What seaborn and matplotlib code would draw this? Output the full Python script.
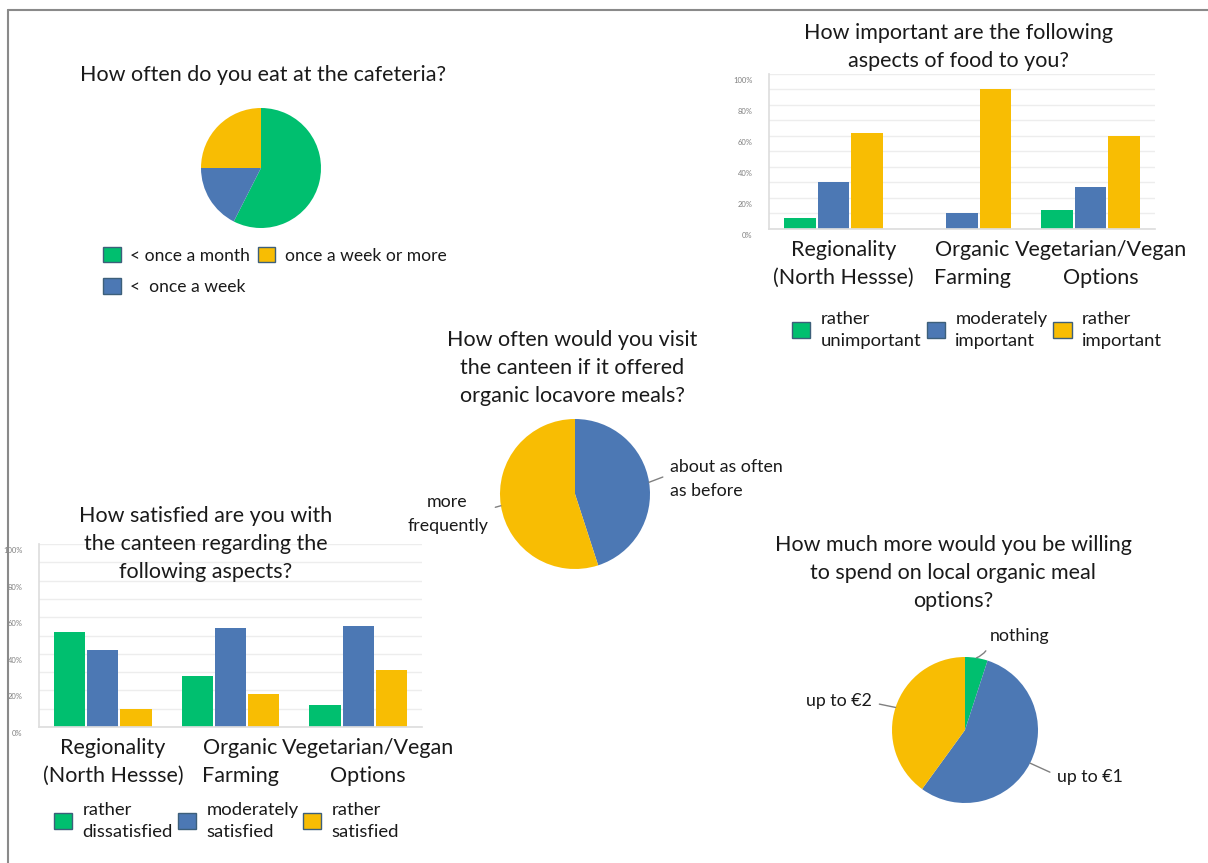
import numpy as np
import pandas as pd
import seaborn as sns
import matplotlib.pyplot as plt
from matplotlib.patches import Patch
from matplotlib.lines import Line2D
from matplotlib.transforms import ScaledTranslation

# Colores de la encuesta
GREEN = '#00BF6F'
BLUE = '#4C78B4'
YELLOW = '#F8BD03'
PALETTE = [GREEN, BLUE, YELLOW]

# Datos: frecuencia en la cafeteria
cafe_labels = ['< once a month', '<  once a week', 'once a week or more']
cafe_share = [57.5, 17.5, 25.0]

# Datos: visitas con comida organica local
visit_labels = ['about as often\nas before', 'more\nfrequently']
visit_share = [45, 55]

# Datos: disposicion a pagar
spend_labels = ['nothing', 'up to €1', 'up to €2']
spend_share = [5, 55, 40]

aspects = ['Regionality\n(North Hessse)', 'Organic\nFarming', 'Vegetarian/Vegan\nOptions']

importance_levels = ['rather\nunimportant', 'moderately\nimportant', 'rather\nimportant']
rather_unimportant = [0.07, 0.00, 0.12]
moderately_important = [0.30, 0.10, 0.27]
rather_important = [0.62, 0.90, 0.60]

satisfaction_levels = ['rather\ndissatisfied', 'moderately\nsatisfied', 'rather\nsatisfied']
rather_dissatisfied = [0.52, 0.28, 0.12]
moderately_satisfied = [0.42, 0.54, 0.55]
rather_satisfied = [0.10, 0.18, 0.31]

pct_ticks = [0, 0.2, 0.4, 0.6, 0.8, 1.0]
pct_labels = ['0%', '20%', '40%', '60%', '80%', '100%']

sns.set_theme(style='white')
plt.rcParams['font.family'] = ['Lato', 'DejaVu Sans']
TEXT = '#1a1a1a'

W, H = 1208, 863
fig = plt.figure(figsize=(W / 100, H / 100), dpi=100)


def fx(x):
    return x / W


def fy(y):
    return 1 - y / H


def px_axes(left, top, width, height):
    return fig.add_axes([left / W, 1 - (top + height) / H, width / W, height / H])


def title(cx, cy, text):
    fig.text(fx(cx), fy(cy), text, ha='center', va='center', fontsize=15.5,
             color=TEXT, linespacing=1.5, multialignment='center')


def draw_pie(cx, cy, r, shares, colors):
    ax = px_axes(cx - r, cy - r, 2 * r, 2 * r)
    wedges, _ = ax.pie(shares, colors=colors, startangle=90, counterclock=False,
                       wedgeprops=dict(linewidth=0))
    ax.set_xlim(-1, 1)
    ax.set_ylim(-1, 1)
    ax.set_aspect('equal')
    return ax, wedges


def pie_label(ax, wedge, text, tx, ty, ha, relpos, rad=0.0, align='center'):
    ang = np.deg2rad((wedge.theta1 + wedge.theta2) / 2)
    ax.annotate(text, xy=(np.cos(ang), np.sin(ang)), xycoords='data',
                xytext=(fx(tx), fy(ty)), textcoords='figure fraction',
                ha=ha, va='center', fontsize=12.8, color=TEXT,
                multialignment=align, linespacing=1.55,
                arrowprops=dict(arrowstyle='-', color='#808080', lw=1,
                                shrinkA=3, shrinkB=0, relpos=relpos,
                                connectionstyle=f'arc3,rad={rad}'))


def legend(handles_colors, labels, x, y, ncol, size=13.3, spacing=0.6, rowgap=0.55):
    handles = [Patch(facecolor=c, edgecolor='#3d5f7a', linewidth=1) for c in handles_colors]
    leg = fig.legend(handles, labels, loc='center left', bbox_to_anchor=(fx(x), fy(y)),
                     ncol=ncol, frameon=False, fontsize=size, handlelength=1.0,
                     handleheight=1.0, handletextpad=0.55, columnspacing=spacing,
                     labelspacing=rowgap, borderpad=0, borderaxespad=0,
                     labelcolor=TEXT)
    for t in leg.get_texts():
        t.set_linespacing(1.5)
    return leg


def draw_bars(left, top, width, height, levels, series):
    ax = px_axes(left, top, width, height)
    rows = []
    for level, vals in zip(levels, series):
        for aspect, v in zip(aspects, vals):
            rows.append({'aspect': aspect, 'level': level, 'share': v})
    df = pd.DataFrame(rows)
    sns.barplot(data=df, x='aspect', y='share', hue='level', order=aspects,
                hue_order=levels, palette=PALETTE, saturation=1, width=0.78,
                gap=0.06, legend=False, ax=ax, linewidth=0)
    ax.set_xlim(-0.5, 2.5)
    ax.set_ylim(0, 1)
    ax.set_yticks(pct_ticks, pct_labels)
    ax.set_yticks(np.arange(0.1, 1.0, 0.2), minor=True)
    ax.yaxis.grid(True, which='both', color='#ededed', lw=1)
    ax.set_axisbelow(True)
    ax.set_xlabel('')
    ax.set_ylabel('')
    for s in ['top', 'right']:
        ax.spines[s].set_visible(False)
    for s in ['left', 'bottom']:
        ax.spines[s].set_color('#dedede')
    ax.tick_params(axis='y', which='both', length=0, labelsize=5.5,
                   labelcolor='#808080', pad=12)
    ax.tick_params(axis='x', length=0, labelsize=15.5, labelcolor=TEXT, pad=8)
    shift = ScaledTranslation(0, -6 / 100, fig.dpi_scale_trans)
    for lab in ax.get_yticklabels():
        lab.set_transform(lab.get_transform() + shift)
    xshift = ScaledTranslation(10 / 100, 0, fig.dpi_scale_trans)
    for lab in ax.get_xticklabels():
        lab.set_transform(lab.get_transform() + xshift)
        lab.set_linespacing(1.5)
    return ax


# Borde de la imagen
fig.add_artist(Line2D([fx(8), 1], [fy(10), fy(10)], color='#8a8a8a', lw=1.5))
fig.add_artist(Line2D([fx(8), fx(8)], [fy(10), 0], color='#8a8a8a', lw=1.5))

# 1) Pastel: frecuencia en la cafeteria
title(263, 75, 'How often do you eat at the cafeteria?')
draw_pie(261, 168, 60, cafe_share, PALETTE)
legend(PALETTE, cafe_labels, 103, 271, ncol=2, size=12.6, spacing=0.45, rowgap=0.85)

# 2) Barras: importancia
title(958, 47, 'How important are the following\naspects of food to you?')
draw_bars(769, 74, 386, 155, importance_levels,
          [rather_unimportant, moderately_important, rather_important])
legend(PALETTE, importance_levels, 792, 330, ncol=3, spacing=0.3)

# 3) Barras: satisfaccion
draw_bars(39, 544, 383, 183, satisfaction_levels,
          [rather_dissatisfied, moderately_satisfied, rather_satisfied])
title(206, 544, 'How satisfied are you with\nthe canteen regarding the\nfollowing aspects?')
legend(PALETTE, satisfaction_levels, 54, 821, ncol=3, spacing=0.25)

# 4) Pastel: visitas
title(572, 368, 'How often would you visit\nthe canteen if it offered\norganic locavore meals?')
ax4, w4 = draw_pie(575, 494, 75, visit_share, [BLUE, YELLOW])
pie_label(ax4, w4[0], visit_labels[0], 670, 479, 'left', (0, 0.62), align='left')
pie_label(ax4, w4[1], visit_labels[1], 488, 514, 'right', (1, 0.62))

# 5) Pastel: pago extra
title(953, 573, 'How much more would you be willing\nto spend on local organic meal\noptions?')
ax5, w5 = draw_pie(965, 730, 73, spend_share, PALETTE)
pie_label(ax5, w5[0], spend_labels[0], 990, 636, 'left', (0, 0.3), rad=-0.3)
pie_label(ax5, w5[1], spend_labels[1], 1057, 777, 'left', (0, 0.6))
pie_label(ax5, w5[2], spend_labels[2], 872, 701, 'right', (1, 0.4))

plt.savefig('out.png', dpi=100)
